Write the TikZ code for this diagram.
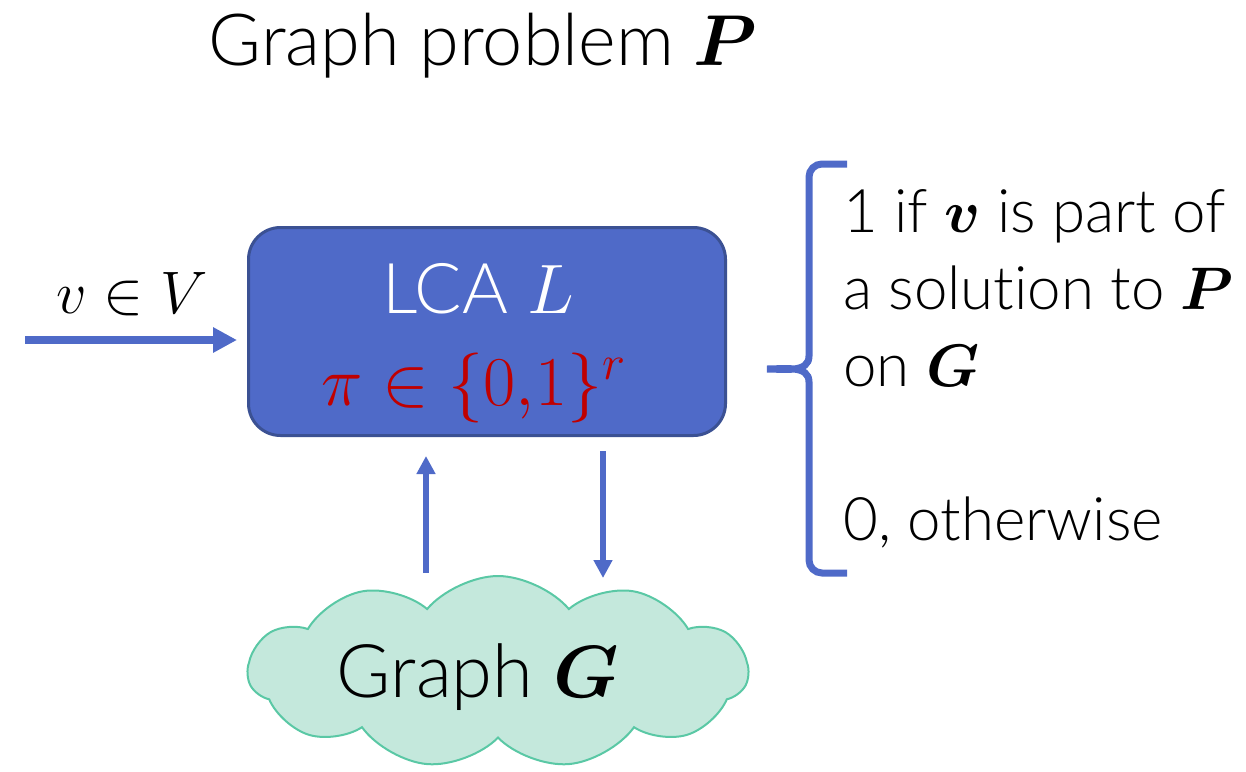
\RequirePackage{fix-cm}
\documentclass[tikz,border=0pt]{standalone}
\usepackage{amsmath,bm}
\usepackage{fontspec}
\setmainfont{Lato Light}[Ligatures=NoCommon]
\usetikzlibrary{arrows.meta,positioning,shapes.symbols}
\definecolor{lcablue}{HTML}{4F6AC8}
\definecolor{lcaedge}{HTML}{3B5193}
\definecolor{bitred}{HTML}{C00000}
\definecolor{cloudfill}{HTML}{C4E8DC}
\definecolor{cloudedge}{HTML}{5AC8A5}
\newcommand{\titletxt}{\fontsize{36}{46}\selectfont}
\newcommand{\boxtxt}{\fontsize{35}{46}\selectfont}
\newcommand{\sidetxt}{\fontsize{30}{38.5}\selectfont}
\tikzset{
  lcabox/.style    ={rounded corners=16pt,draw=lcaedge,line width=1.5pt,fill=lcablue,
                     minimum width=238.5pt,minimum height=104pt,inner sep=0pt},
  graphcloud/.style={cloud,cloud puffs=11,cloud puff arc=100,aspect=2.7,draw=cloudedge,
                     fill=cloudfill,line width=1pt,minimum width=250pt,minimum height=96pt},
  flow/.style      ={-{Triangle[length=12pt,width=12pt]},line width=3.8pt,draw=lcablue},
  feed/.style      ={-{Triangle[length=9pt,width=9pt]},line width=3.2pt,draw=lcablue},
  brace/.style     ={line width=3.5pt,draw=lcablue}
}
\begin{document}
\begin{tikzpicture}[x=0.5pt,y=-0.5pt]
  \useasboundingbox (0,0) rectangle (1246,771);
  \node[anchor=base,font=\titletxt] (title) at (483,65) {Graph problem $\bm{P}$};
  \node[lcabox] (lca) at (487,331.5) {};
  \node[anchor=base,font=\boxtxt,text=white] (lcaname) at (478,313) {LCA $L$};
  \node[anchor=base,font=\boxtxt,text=bitred] (bits) at (474,405) {$\pi\in\{0{,}1\}^r$};
  \node[anchor=base,font=\sidetxt] (vin) at (132,313) {$v\in V$};
  \coordinate (src) at (25,340);
  \draw[flow,shorten >=5pt] (src) -- (src -| lca.west);
  \node[graphcloud] (graph) at (498,672) {};
  \node[anchor=base,font=\fontsize{37}{44}\selectfont] (graphname) at (478,697) {Graph $\bm{G}$};
  \coordinate (upfoot) at (426,573);
  \coordinate (downhead) at (603,578);
  \draw[feed,shorten >=9.5pt] (upfoot) -- (upfoot |- lca.south);
  \draw[feed,shorten <=7pt] (downhead |- lca.south) -- (downhead);
  \node[anchor=base west,align=left,inner sep=0pt,font=\sidetxt] (answer) at (843,540)
    {1 if $\bm{v}$ is part of\\ a solution to $\bm{P}$\\ on $\bm{G}$\\[38.5pt] 0, otherwise};
  \draw[brace] (847,164) -- (822,164) to[out=180,in=90] (809,177) -- (809,356)
    to[out=-90,in=0] (767,369) to[out=0,in=90] (809,382) -- (809,560)
    to[out=-90,in=180] (822,573) -- (847,573);
\end{tikzpicture}
\end{document}
